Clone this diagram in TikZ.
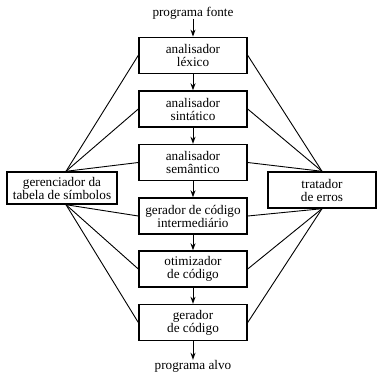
\documentclass[tikz,border=0pt]{standalone}
\usepackage{fontspec}
\setmainfont{Liberation Serif}
\usetikzlibrary{arrows.meta}
\begin{document}
\begin{tikzpicture}[x=1pt,y=-1pt,
  phase/.style={draw,line width=1.4pt,minimum width=108pt,minimum height=36pt,inner sep=0pt,align=center,font=\fontsize{13.2}{13}\selectfont},
  side/.style={draw,line width=1.4pt,inner sep=0pt,align=center,font=\fontsize{13.2}{13}\selectfont},
  lbl/.style={inner sep=0pt,font=\fontsize{13.2}{13}\selectfont},
  flow/.style={line width=1pt,-{Stealth[length=7pt,width=5pt]}},
  link/.style={line width=0.9pt}]
\useasboundingbox (0,0) rectangle (377,373);
\node[lbl] (src) at (193,13) {programa fonte};
\node[phase] (p1) at (193,55.3) {analisador\\léxico};
\node[phase] (p2) at (193,109) {analisador\\sintático};
\node[phase] (p3) at (193,162.5) {analisador\\semântico};
\node[phase] (p4) at (193,216) {gerador de código\\intermediário};
\node[phase] (p5) at (193,269) {otimizador\\de código};
\node[phase] (p6) at (193,322.5) {gerador\\de código};
\node[lbl] (dst) at (193,366) {programa alvo};
\node[side,minimum width=110pt,minimum height=32pt] (tab) at (62,188) {gerenciador da\\tabela de símbolos};
\node[side,minimum width=108pt,minimum height=36pt] (err) at (322,190) {tratador\\de erros};
\coordinate (tn) at ([xshift=4pt]tab.north);
\coordinate (ts) at ([xshift=4pt]tab.south);
\coordinate (en) at (err.north);
\coordinate (es) at (err.south);
\draw[flow] (src) -- (p1);
\draw[flow] (p1) -- (p2);
\draw[flow] (p2) -- (p3);
\draw[flow] (p3) -- (p4);
\draw[flow] (p4) -- (p5);
\draw[flow] (p5) -- (p6);
\draw[flow] (p6) -- (dst);
\foreach \p in {p1,p2,p3} {
  \draw[link] (tn) -- (\p.west);
  \draw[link] (en) -- (\p.east);
}
\foreach \p in {p4,p5,p6} {
  \draw[link] (ts) -- (\p.west);
  \draw[link] (es) -- (\p.east);
}
\end{tikzpicture}
\end{document}
